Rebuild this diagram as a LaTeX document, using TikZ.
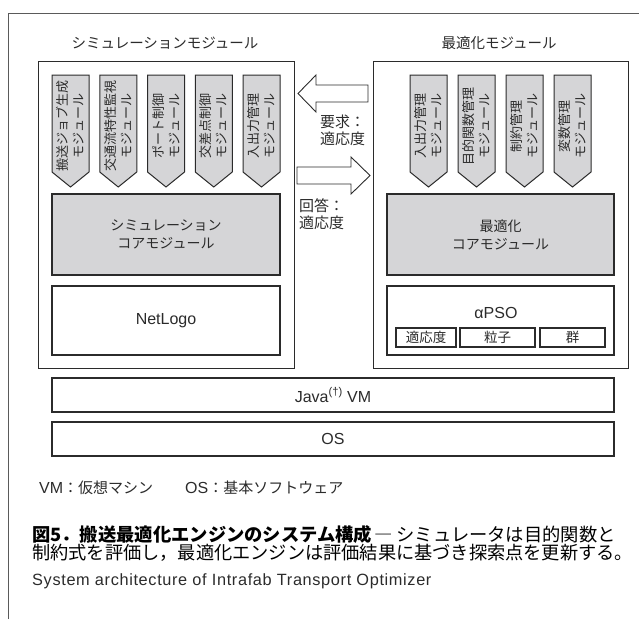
\documentclass[tikz,border=0pt]{standalone}
\usepackage{fontspec}
\setmainfont{Liberation Sans}
\newfontfamily\jp{Noto Sans CJK JP}
\definecolor{ink}{HTML}{2B2B2B}
\definecolor{boxgray}{HTML}{D5D5D7}
\definecolor{framegray}{HTML}{5A5A5A}
\tikzset{
  frameline/.style={draw=framegray, line width=1pt},
  outerbox/.style={draw=ink, line width=1pt, fill=white, inner sep=0pt},
  graybox/.style={draw=ink, line width=1.2pt, fill=boxgray, inner sep=0pt, align=center, text=ink},
  whitebox/.style={draw=ink, line width=1.2pt, fill=white, inner sep=0pt, align=center, text=ink},
  smallbox/.style={draw=ink, line width=1.1pt, fill=white, inner sep=0pt, minimum height=19pt, text=ink, font=\jp\fontsize{13.5}{15}\selectfont},
  modshape/.style={draw=ink, line width=1pt, fill=boxgray, line join=miter},
  modtext/.style={rotate=90, align=center, font=\jp\fontsize{13}{16}\selectfont, inner sep=0pt, text=ink},
  blockarrow/.style={draw=ink, line width=0.9pt, fill=white, line join=miter},
  titletext/.style={font=\jp\fontsize{14.5}{17}\selectfont, text=ink, inner sep=0pt},
  coretext/.style={font=\jp\fontsize{14}{18}\selectfont},
  latintext/.style={font=\fontsize{16}{18}\selectfont, text=ink, inner sep=0pt},
  labeltext/.style={font=\jp\fontsize{15}{17}\selectfont, text=ink, inner sep=0pt, align=left, anchor=west},
  legendtext/.style={font=\fontsize{16}{18}\selectfont, text=ink, inner sep=0pt, anchor=west},
  captiontext/.style={text=black, inner sep=0pt, anchor=west}
}
\begin{document}
\begin{tikzpicture}[x=1pt,y=-1pt]
\useasboundingbox (0,0) rectangle (639,619);
% outer frame (top and left edges visible)
\draw[frameline] (8,619) -- (8,13) -- (639,13);

% titles
\node[titletext] (simtitle) at (165,43) {シミュレーションモジュール};
\node[titletext] (opttitle) at (499,43) {最適化モジュール};

% module containers
\node[outerbox, minimum width=256pt, minimum height=307pt] (simbox) at (166,214.5) {};
\node[outerbox, minimum width=255pt, minimum height=307pt] (optbox) at (500.5,214.5) {};

% simulation sub-modules
\foreach \x/\t [count=\i] in {52/{搬送ジョブ生成\\モジュール}, 99.75/{交通流特性監視\\モジュール}, 147.5/{ポート制御\\モジュール}, 195.25/{交差点制御\\モジュール}, 243/{入出力管理\\モジュール}}{
  \draw[modshape] (\x,75) -- ++(37,0) -- ++(0,97) -- ++(-18.5,15) -- ++(-18.5,-15) -- cycle;
  \node[modtext] (sm\i) at (\x+18.5,126) {\t};
}
% optimization sub-modules
\foreach \x/\t [count=\i] in {410/{入出力管理\\モジュール}, 458/{目的関数管理\\モジュール}, 506/{制約管理\\モジュール}, 554/{変数管理\\モジュール}}{
  \draw[modshape] (\x,75) -- ++(37,0) -- ++(0,97) -- ++(-18.5,15) -- ++(-18.5,-15) -- cycle;
  \node[modtext] (om\i) at (\x+18.5,126) {\t};
}

% core modules
\node[graybox, coretext, minimum width=228pt, minimum height=81pt] (simcore) at (166,234.5) {シミュレーション\\コアモジュール};
\node[graybox, coretext, minimum width=227pt, minimum height=81pt] (optcore) at (500.5,234.5) {最適化\\コアモジュール};

% engines
\node[whitebox, latintext, minimum width=228pt, minimum height=69pt] (netlogo) at (166,320.5) {NetLogo};
\node[whitebox, minimum width=227pt, minimum height=69pt] (psobox) at (500.5,320.5) {};
\node[latintext] (psotext) at (496,312.5) {αPSO};
\node[smallbox, minimum width=60pt] (fit) at (426,337.5) {適応度};
\node[smallbox, minimum width=75pt] (particle) at (497.5,337.5) {粒子};
\node[smallbox, minimum width=65pt] (swarm) at (572.5,337.5) {群};

% block arrows between the modules
\draw[blockarrow] (368,85) -- (316,85) -- (316,75) -- (298,93.5) -- (316,112) -- (316,102) -- (368,102) -- cycle;
\draw[blockarrow] (297,167) -- (351,167) -- (351,157) -- (370,175.5) -- (351,194) -- (351,184) -- (297,184) -- cycle;
\node[labeltext] (req) at (320,130.5) {要求：\\適応度};
\node[labeltext] (ans) at (299,214.5) {回答：\\適応度};

% platform layers
\node[whitebox, latintext, minimum width=562pt, minimum height=34pt] (jvm) at (333,395) {Java\textsuperscript{(†)} VM};
\node[whitebox, latintext, minimum width=562pt, minimum height=34pt] (os) at (333,439) {OS};

% legend
\node[legendtext] (lgvm) at (39,488) {VM{\jp\fontsize{15}{17}\selectfont ：仮想マシン}};
\node[legendtext] (lgos) at (185,488) {OS{\jp\fontsize{15}{17}\selectfont ：基本ソフトウェア}};

% caption
\node[captiontext, font=\jp\fontsize{18.3}{20}\selectfont] (cap1) at (32,535) {{\bfseries 図5．搬送最適化エンジンのシステム構成}\hspace{2pt}―\hspace{4pt}シミュレータは目的関数と};
\node[captiontext, font=\jp\fontsize{18.2}{20}\selectfont] (cap2) at (32,553) {制約式を評価し，最適化エンジンは評価結果に基づき探索点を更新する。};
\node[captiontext, font=\addfontfeature{LetterSpace=4}\fontsize{16.3}{18}\selectfont, text=ink] (cap3) at (32,581.5) {System architecture of Intrafab Transport Optimizer};
\end{tikzpicture}
\end{document}
